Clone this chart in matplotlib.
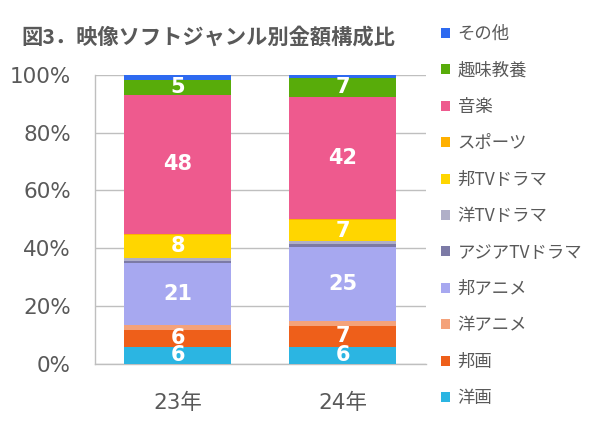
import numpy as np
import matplotlib
matplotlib.use("Agg")
import matplotlib.pyplot as plt
from matplotlib.patches import Patch

plt.rcParams['font.family'] = ['DejaVu Sans', 'Noto Sans CJK JP']

# data (percent), bottom -> top of each stacked bar
years = ['23年', '24年']
genres = ['洋画', '邦画', '洋アニメ', '邦アニメ', 'アジアTVドラマ', '洋TVドラマ',
          '邦TVドラマ', 'スポーツ', '音楽', '趣味教養', 'その他']
yoga = [6.0, 6.0]
hoga = [5.8, 7.2]
yo_anime = [1.7, 1.8]
ho_anime = [21.45, 25.4]
asia_tv = [0.8, 1.1]
yo_tv = [0.8, 0.9]
ho_tv = [8.2, 7.4]
sports = [0.2, 0.2]
music = [48.0, 42.3]
hobby = [5.3, 6.6]
other = [1.75, 1.1]

colors = ['#2BB5E2', '#EE5F1A', '#F4A27A', '#A7A8F0', '#7C7AA6', '#B0AFC8',
          '#FFD600', '#FFB000', '#EE5A8E', '#58AC0A', '#2E6AF0']

series = [yoga, hoga, yo_anime, ho_anime, asia_tv, yo_tv, ho_tv, sports,
          music, hobby, other]

grey = '#595959'
fig = plt.figure(figsize=(5.99, 4.23), dpi=100)
ax = fig.add_axes([0.158, 0.1395, 0.553, 0.684])

x = np.arange(len(years))
bottom = np.zeros(len(years))
for vals, col, name in zip(series, colors, genres):
    vals = np.array(vals)
    ax.bar(x, vals, 0.645, bottom=bottom, color=col, linewidth=0, zorder=3,
           label=name)
    for i in range(len(x)):
        if vals[i] >= 4:
            ax.text(x[i], bottom[i] + vals[i] / 2, f"{vals[i]:.0f}",
                    ha='center', va='center', color='white',
                    fontsize=15, fontweight='bold', zorder=4)
    bottom = bottom + vals

ax.set_xlim(-0.503, 1.505)
ax.set_ylim(0, 100)
ax.set_yticks(np.arange(0, 101, 20))
ax.set_yticklabels([f"{v}%" for v in range(0, 101, 20)])
ax.set_xticks(x)
ax.set_xticklabels(years)
ax.tick_params(axis='y', length=0, pad=17, labelsize=15.5, labelcolor=grey)
ax.tick_params(axis='x', length=0, pad=21, labelsize=15.5, labelcolor=grey)
ax.grid(axis='y', color='#BFBFBF', linewidth=1, zorder=0)
for s in ['top', 'right']:
    ax.spines[s].set_visible(False)
for s in ['left', 'bottom']:
    ax.spines[s].set_color('#BFBFBF')
    ax.spines[s].set_linewidth(1)

handles = [Patch(facecolor=c, edgecolor='none') for c in colors][::-1]
labels = genres[::-1]
leg = fig.legend(handles, labels, loc='upper left',
                 bbox_to_anchor=(0.725, 0.957), frameon=False,
                 prop={'family': ['Noto Sans CJK JP'], 'size': 12.5},
                 handlelength=0.5, handleheight=0.5, handletextpad=0.45,
                 labelspacing=1.06, borderaxespad=0)
for t in leg.get_texts():
    t.set_color(grey)

fig.text(0.036, 0.912, '図3．映像ソフトジャンル別金額構成比', ha='left', va='center',
         fontsize=15.3, fontweight='bold', color=grey,
         family=['Noto Sans CJK JP', 'DejaVu Sans'])

fig.savefig('out.png', dpi=100)
